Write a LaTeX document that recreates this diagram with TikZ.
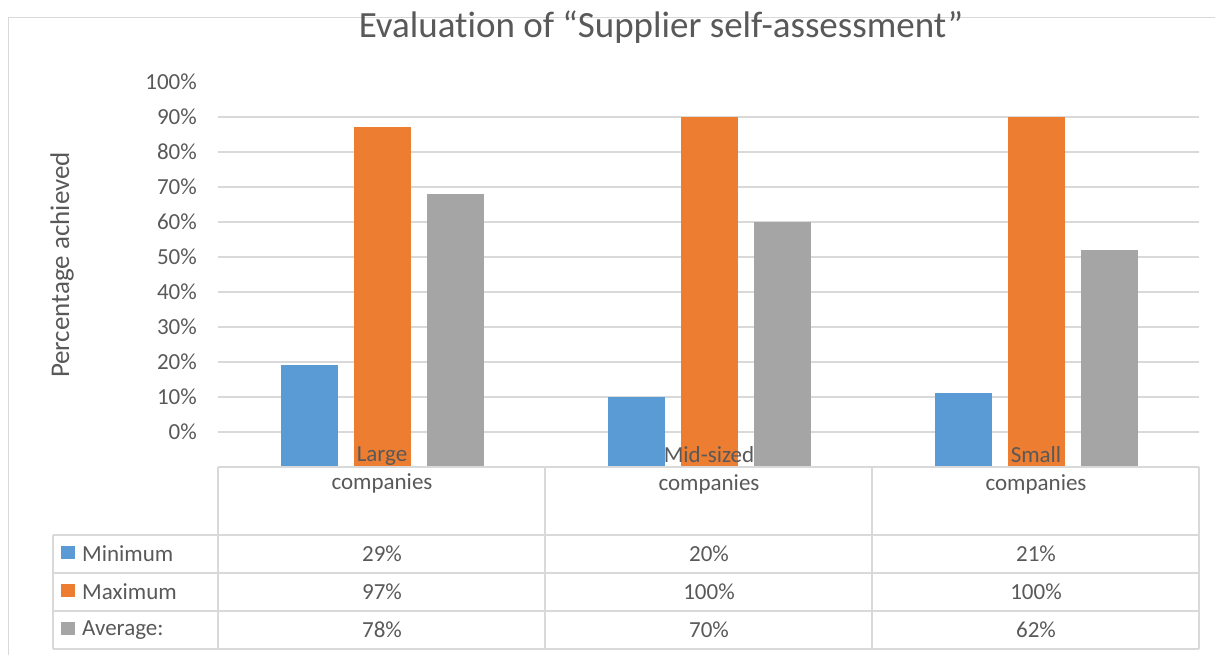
\documentclass[tikz,border=0pt]{standalone}
\usepackage{fontspec}
\setmainfont{Carlito}[Ligatures={CommonOff,ContextualOff}]
\definecolor{minblue}{HTML}{5B9BD5}
\definecolor{maxorange}{HTML}{ED7D31}
\definecolor{avggrey}{HTML}{A5A5A5}
\definecolor{txtgrey}{HTML}{595959}
\definecolor{linegrey}{HTML}{D9D9D9}

\begin{document}
\begin{tikzpicture}[x=1pt, y=-1pt,
		gridline/.style={draw=linegrey, line width=2pt},
		tableline/.style={draw=linegrey, line width=2pt},
		lbl/.style={text=txtgrey, inner sep=0pt, font=\fontsize{23}{28}\selectfont},
		bar/.style={inner sep=0pt, minimum width=57pt, anchor=south},
		key/.style={inner sep=0pt, minimum width=14pt, minimum height=13pt}
		]
		\useasboundingbox (0,0) rectangle (1215,655);
		\draw[draw=linegrey, line width=1pt] (8,655) -- (8,18) -- (1215,18);

		\node[lbl, anchor=base, font=\fontsize{37}{42}\selectfont] (title) at (661,38)
			{Evaluation of “Supplier self-assessment”};
		\node[lbl, rotate=90, font=\fontsize{27}{32}\selectfont] (ytitle) at (62,265) {Percentage achieved};

		\foreach \k in {1,...,10}
			\draw[gridline] (218,467-35*\k) -- (1199,467-35*\k);
		\foreach \k in {0,...,10}{
			\pgfmathtruncatemacro\pct{10*\k}
			\node[lbl, anchor=east] (tick\k) at (197,467-35*\k-35) {\pct\%};
		}

		\foreach \grp/\cx/\a/\b/\c in {1/382/29/97/78, 2/709/20/100/70, 3/1036/21/100/62}{
			\pgfmathsetmacro\ha{3.5*\a}
			\pgfmathsetmacro\hb{3.5*\b}
			\pgfmathsetmacro\hc{3.5*\c}
			\node[bar, fill=minblue, minimum height=\ha pt] (min\grp) at (\cx-73,467) {};
			\node[bar, fill=maxorange, minimum height=\hb pt] (max\grp) at (\cx,467) {};
			\node[bar, fill=avggrey, minimum height=\hc pt] (avg\grp) at (\cx+73,467) {};
			\node[lbl] (minval\grp) at (\cx,554) {\a\%};
			\node[lbl] (maxval\grp) at (\cx,592) {\b\%};
			\node[lbl] (avgval\grp) at (\cx,630) {\c\%};
		}

		\draw[tableline] (218,467) -- (1199,467);
		\foreach \r in {535,573,611,649}
			\draw[tableline] (53,\r) -- (1199,\r);
		\draw[tableline] (53,535) -- (53,649);
		\foreach \c in {218,545,872,1199}
			\draw[tableline] (\c,467) -- (\c,649);

		\node[lbl, anchor=north, align=center] (cat1) at (382,447) {Large\\companies};
		\node[lbl, anchor=north, align=center] (cat2) at (709,446) {Mid-sized\\companies};
		\node[lbl, anchor=north, align=center] (cat3) at (1036,446) {Small\\companies};

		\node[key, fill=minblue] (keymin) at (68,552) {};
		\node[key, fill=maxorange] (keymax) at (68,590) {};
		\node[key, fill=avggrey] (keyavg) at (68,628) {};
		\node[lbl, anchor=west] (rowmin) at (82,554) {Minimum};
		\node[lbl, anchor=west] (rowmax) at (82,592) {Maximum};
		\node[lbl, anchor=west] (rowavg) at (82,630) {Average:};

	\end{tikzpicture}
\end{document}
